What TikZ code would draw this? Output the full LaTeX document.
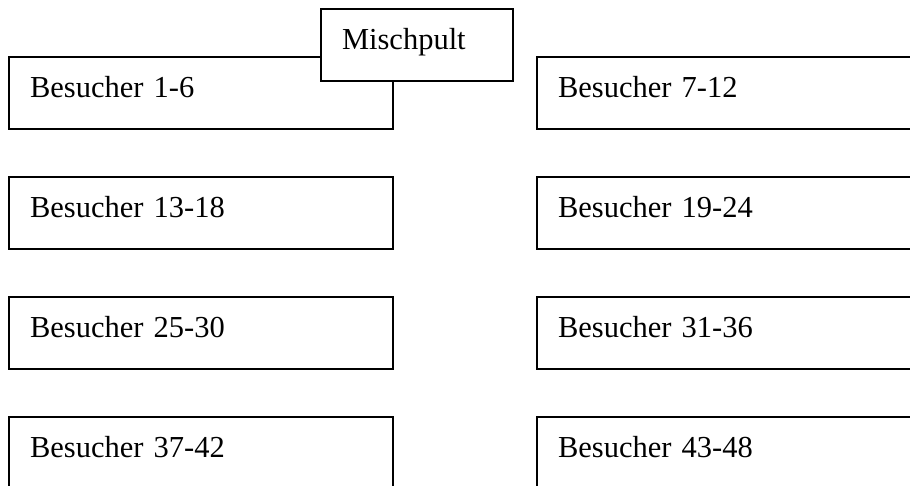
\documentclass[tikz,border=0pt]{standalone}
\usepackage{fontspec}
\setmainfont{Liberation Serif}
\usetikzlibrary{positioning}

\tikzset{
  platz/.style={draw, line width=1.9pt, fill=white, rectangle, outer sep=0pt, inner xsep=21pt, inner ysep=0pt,
    minimum height=72pt, text width=342pt, align=left, text height=22pt, text depth=13pt,
    font=\fontsize{30.5}{36}\selectfont},
  pult/.style={platz, text width=150pt}
}

\begin{document}
\begin{tikzpicture}[x=1pt,y=1pt]
\useasboundingbox (0,0) rectangle (910,-485);
\clip (0,0) rectangle (910,-485);
% left column
\node[platz, anchor=north west] (b1) at (9,-57) {Besucher 1-6};
\node[platz, below=48pt of b1] (b13) {Besucher 13-18};
\node[platz, below=48pt of b13] (b25) {Besucher 25-30};
\node[platz, below=48pt of b25] (b37) {Besucher 37-42};
% right column
\node[platz, right=144pt of b1] (b7) {Besucher 7-12};
\node[platz, right=144pt of b13] (b19) {Besucher 19-24};
\node[platz, right=144pt of b25] (b31) {Besucher 31-36};
\node[platz, right=144pt of b37] (b43) {Besucher 43-48};
% mixing desk on top
\node[pult, anchor=north west] (mp) at (321,-9.3) {Mischpult};
\end{tikzpicture}
\end{document}
